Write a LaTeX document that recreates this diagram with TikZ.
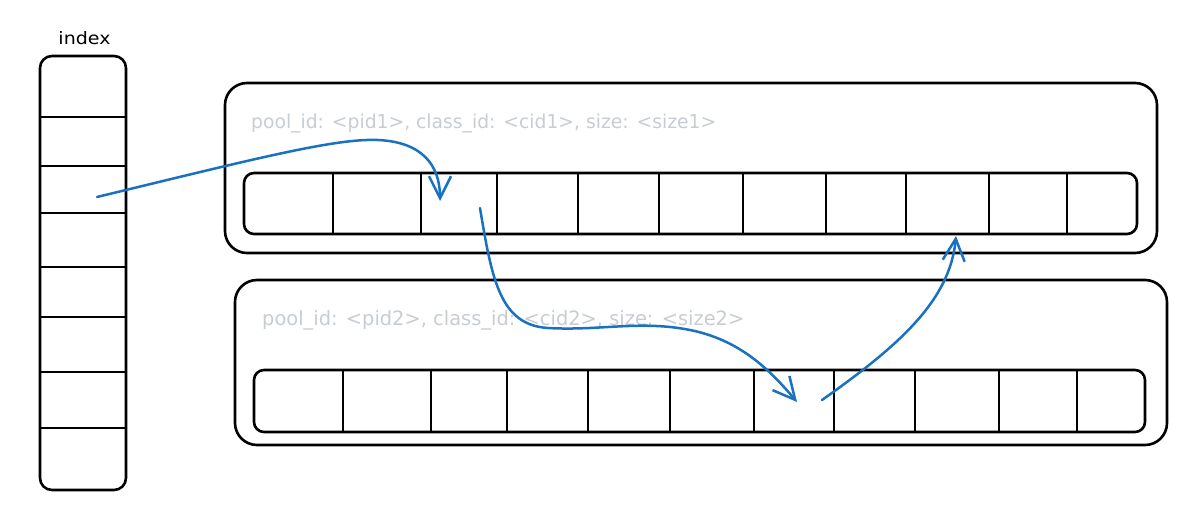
\documentclass[tikz,border=0pt]{standalone}
\usepackage{fontspec}
\setmainfont{DejaVu Sans}
\usetikzlibrary{arrows.meta}
\definecolor{arrowblue}{HTML}{1971C2}
\definecolor{labelgray}{HTML}{C8CDD3}
\tikzset{
  box/.style={draw=black, line width=2.6pt, rounded corners=#1, inner sep=0pt},
  box/.default=10pt,
  divider/.style={draw=black, line width=2.6pt},
  link/.style={draw=arrowblue, line width=2.5pt, line cap=round,
    -{Straight Barb[length=22pt,width=22pt,line width=2.5pt]}},
  caption/.style={anchor=base west, inner sep=0pt, text=labelgray},
}
\begin{document}
\begin{tikzpicture}[x=1pt,y=-1pt]
\useasboundingbox (0,0) rectangle (1200,525);
\fill[white] (0,0) rectangle (1200,525);

% index column
\node[inner sep=0pt, anchor=base] (idxlabel) at (84.5,44) {\resizebox{52pt}{13pt}{index}};
\node[box=12pt, minimum width=86pt, minimum height=434pt] (idx) at (83,273) {};
\foreach \y in {117,166,213,267,317,372,428}
  \draw[divider] (39,\y) -- (126,\y);

% pool 1
\node[box=22pt, minimum width=932pt, minimum height=170pt] (pool1) at (691,168) {};
\node[caption] (cap1) at (251,128) {\resizebox{465pt}{14.5pt}{pool\_id: <pid1>, class\_id: <cid1>, size: <size1>}};
\node[box=10pt, minimum width=893pt, minimum height=61pt] (strip1) at (690.5,203.5) {};
\foreach \x in {333,421,497,578,659,743,826,906,989,1067}
  \draw[divider] (\x,172) -- (\x,234);

% pool 2
\node[box=22pt, minimum width=932pt, minimum height=165pt] (pool2) at (701,362.5) {};
\node[caption] (cap2) at (262,325) {\resizebox{482pt}{15pt}{pool\_id: <pid2>, class\_id: <cid2>, size: <size2>}};
\node[box=10pt, minimum width=891pt, minimum height=62pt] (strip2) at (699.5,401) {};
\foreach \x in {343,431,507,588,670,754,834,915,999,1077}
  \draw[divider] (\x,369) -- (\x,432);

% arrow end points
\coordinate (a1s) at (97,197);
\coordinate (a1e) at (440,201);
\coordinate (a2s) at (480,208);
\coordinate (a2e) at (797,402);
\coordinate (a3s) at (822,400);
\coordinate (a3e) at (956,236);

\draw[link] (a1s) .. controls (250,160) and (335,138) .. (378,140)
  .. controls (422,142) and (440,165) .. (a1e);
\draw[link] (a2s) .. controls (492,280) and (500,325) .. (548,328)
  .. controls (600,331) and (640,320) .. (690,330)
  .. controls (740,340) and (770,370) .. (a2e);
\draw[link] (a3s) .. controls (900,345) and (950,300) .. (a3e);
\end{tikzpicture}
\end{document}
